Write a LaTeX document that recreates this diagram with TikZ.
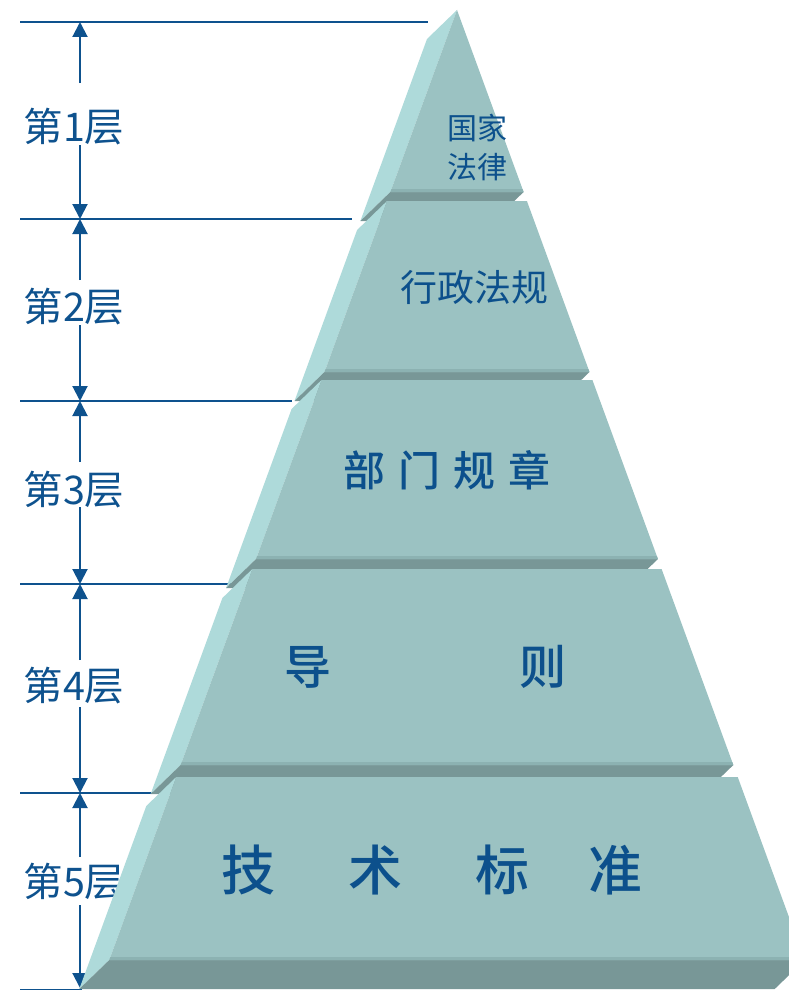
\documentclass[tikz,border=0pt]{standalone}
\usepackage{fontspec}
\newfontfamily\cjk{Noto Sans CJK SC}
\newfontfamily\cjkmed{Noto Sans CJK SC}[UprightFont={* Medium}]
\usetikzlibrary{arrows.meta,calc}
\definecolor{frontc}{RGB}{155,194,194}
\definecolor{sidec}{RGB}{174,218,218}
\definecolor{bottomc}{RGB}{120,151,151}
\definecolor{bevelc}{RGB}{140,178,178}
\definecolor{txtc}{RGB}{12,80,140}
\definecolor{dimc}{RGB}{14,82,142}
\tikzset{
  sideface/.style={fill=sidec},
  bottomface/.style={fill=bottomc},
  frontface/.style={fill=frontc},
  bevelstrip/.style={fill=bevelc},
  dimline/.style={draw=dimc,line width=2pt},
  dimarr/.style={draw=dimc,line width=2pt,-{Triangle[width=15pt,length=15pt]}},
  sidelbl/.style={text=dimc,inner sep=0pt,font=\cjk\fontsize{39.5}{42}\selectfont},
  pyrlbl/.style={text=txtc,inner sep=0pt,align=center},
}
\begin{document}
\begin{tikzpicture}[x=1pt,y=-1pt]
\useasboundingbox (0,0) rectangle (789,990);
\clip (0,0) rectangle (789,990);

% dimension lines
\coordinate (h0l) at (20,22);  \coordinate (h0r) at (428,22);
\coordinate (h1l) at (20,219); \coordinate (h1r) at (352,219);
\coordinate (h2l) at (20,401); \coordinate (h2r) at (292,401);
\coordinate (h3l) at (20,584); \coordinate (h3r) at (231,584);
\coordinate (h4l) at (20,793); \coordinate (h4r) at (157,793);
\coordinate (h5l) at (20,990); \coordinate (h5r) at (82,990);
\foreach \i in {0,...,5} { \draw[dimline] (h\i l) -- (h\i r); }

% arrow ends
\coordinate (a0) at (80,22);
\coordinate (a1) at (80,219);
\coordinate (a2) at (80,401);
\coordinate (a3) at (80,584);
\coordinate (a4) at (80,793);
\coordinate (a5) at (80,988);
% gap ends
\coordinate (g1t) at (80,83);  \coordinate (g1b) at (80,145);
\coordinate (g2t) at (80,280); \coordinate (g2b) at (80,325);
\coordinate (g3t) at (80,462); \coordinate (g3b) at (80,507);
\coordinate (g4t) at (80,660); \coordinate (g4b) at (80,707);
\coordinate (g5t) at (80,857); \coordinate (g5b) at (80,905);

\draw[dimarr] (g1t) -- (a0); \draw[dimarr] (g1b) -- (a1);
\draw[dimarr] (g2t) -- (a1); \draw[dimarr] (g2b) -- (a2);
\draw[dimarr] (g3t) -- (a2); \draw[dimarr] (g3b) -- (a3);
\draw[dimarr] (g4t) -- (a3); \draw[dimarr] (g4b) -- (a4);
\draw[dimarr] (g5t) -- (a4); \draw[dimarr] (g5b) -- (a5);

\node[sidelbl] (s1) at (74,127) {第1层};
\node[sidelbl] (s2) at (74,307) {第2层};
\node[sidelbl] (s3) at (74,490) {第3层};
\node[sidelbl] (s4) at (74,686) {第4层};
\node[sidelbl] (s5) at (74,882) {第5层};

% pyramid layers
\foreach \yt/\yb/\n in {10/192/1, 201/372/2, 380/559/3, 569/765/4, 777/960/5} {
  \pgfmathsetmacro\xlt{457-0.366*(\yt-10)}
  \pgfmathsetmacro\xrt{457+0.366*(\yt-10)}
  \pgfmathsetmacro\xlb{457-0.366*(\yb-10)}
  \pgfmathsetmacro\xrb{457+0.366*(\yb-10)}
  \coordinate (TL\n) at (\xlt,\yt);
  \coordinate (TR\n) at (\xrt,\yt);
  \coordinate (BL\n) at (\xlb,\yb);
  \coordinate (BR\n) at (\xrb,\yb);
  \fill[sideface] (TL\n) -- ($(TL\n)+(-30,29)$) -- ($(BL\n)+(-30,29)$) -- (BL\n) -- cycle;
  \fill[bottomface] (BL\n) -- (BR\n) -- ($(BR\n)+(-30,29)$) -- ($(BL\n)+(-30,29)$) -- cycle;
  \fill[frontface] (TL\n) -- (TR\n) -- (BR\n) -- (BL\n) -- cycle;
  \fill[bevelstrip] ($(BL\n)+(1.1,-3)$) -- ($(BR\n)+(-1.1,-3)$) -- (BR\n) -- (BL\n) -- cycle;
}

% labels in the pyramid
\node[pyrlbl,font=\cjk\fontsize{30}{39}\selectfont] (t1) at (477,147) {国家\\法律};
\node[pyrlbl,font=\cjk\fontsize{37}{40}\selectfont] (t2) at (474,287) {行政法规};
\node[pyrlbl,font=\cjkmed\fontsize{42}{46}\selectfont] (t3) at (447,470)
  {部\hspace{13pt}门\hspace{13pt}规\hspace{13pt}章};
\node[pyrlbl,font=\cjkmed\fontsize{47}{50}\selectfont] (t4) at (425,667)
  {导\hspace{188pt}则};
\node[pyrlbl,font=\cjkmed\fontsize{54}{58}\selectfont] (t5) at (432,870)
  {技\hspace{74pt}术\hspace{73pt}标\hspace{59pt}准};
\end{tikzpicture}
\end{document}
